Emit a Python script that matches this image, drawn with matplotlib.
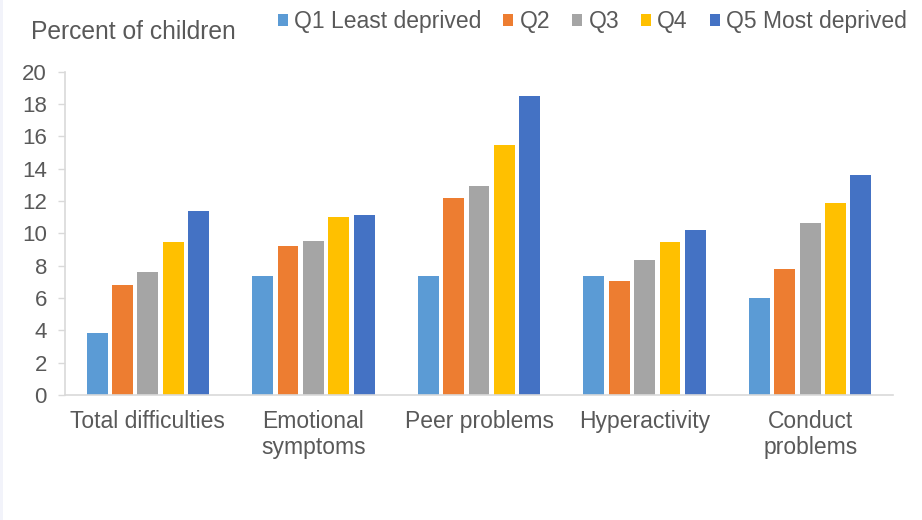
import matplotlib
matplotlib.use("Agg")
import matplotlib.pyplot as plt
import numpy as np
from matplotlib.patches import Rectangle

categories = ["Total difficulties", "Emotional\nsymptoms", "Peer problems", "Hyperactivity", "Conduct\nproblems"]
series_names = ["Q1 Least deprived", "Q2", "Q3", "Q4", "Q5 Most deprived"]
q1 = [3.85, 7.38, 7.38, 7.38, 5.98]
q2 = [6.78, 9.24, 12.19, 7.03, 7.77]
q3 = [7.60, 9.52, 12.90, 8.35, 10.62]
q4 = [9.44, 11.00, 15.48, 9.46, 11.88]
q5 = [11.36, 11.13, 18.50, 10.19, 13.59]
series = [q1, q2, q3, q4, q5]
colors = ["#5B9BD5", "#ED7D31", "#A5A5A5", "#FFC000", "#4472C4"]
yticks = [0, 2, 4, 6, 8, 10, 12, 14, 16, 18, 20]

plt.rcParams['font.family'] = ['Liberation Sans', 'DejaVu Sans']
text_color = "#595959"

fig = plt.figure(figsize=(9.22, 5.2), dpi=100)
fig.patch.set_facecolor("white")
fig.patches.append(Rectangle((0, 0), 3/922, 1, transform=fig.transFigure,
                             facecolor="#F2F3FA", edgecolor="none", zorder=0))
ax = fig.add_axes([65/922, 1-395/520, (893-65)/922, (395-71.7)/520])

x = np.arange(len(categories))
step = 0.153
bw = 0.126
handles = []
for i, (vals, c) in enumerate(zip(series, colors)):
    b = ax.bar(x + (i - 2) * step, vals, width=bw, color=c, edgecolor="none", zorder=2,
               label=series_names[i])
    handles.append(b)

ax.set_xlim(-0.5, len(categories) - 0.5)
ax.set_ylim(0, 20)
ax.set_yticks(yticks)
ax.set_xticks(x)
ax.set_xticklabels(categories, fontsize=16.5, color=text_color, linespacing=1.2)
ax.tick_params(axis="x", length=0, pad=10.5)
ax.tick_params(axis="y", length=5, color="#D9D9D9", width=1, labelsize=16,
               labelcolor=text_color, pad=8)
for s in ["top", "right"]:
    ax.spines[s].set_visible(False)
for s in ["left", "bottom"]:
    ax.spines[s].set_color("#D9D9D9")
    ax.spines[s].set_linewidth(1.2)

fig.text(31/922, 1-32/520, "Percent of children", fontsize=17.7, color=text_color,
         va="center", ha="left")

leg = fig.legend(handles=handles, labels=series_names, loc="center right",
                 bbox_to_anchor=(907/922, 1-21.5/520), ncol=5, frameon=False,
                 fontsize=16.5, handlelength=0.44, handleheight=0.44,
                 handletextpad=0.28, columnspacing=0.95, borderaxespad=0,
                 borderpad=0)
for t in leg.get_texts():
    t.set_color(text_color)

fig.savefig("out.png", dpi=100)
